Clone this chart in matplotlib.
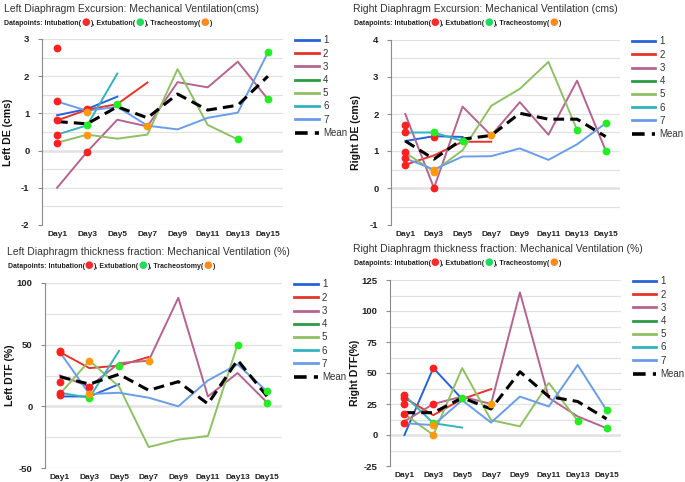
import numpy as np
import matplotlib
matplotlib.use("Agg")
from matplotlib import pyplot as plt

plt.rcParams["axes.unicode_minus"] = False

nan = np.nan
days = ["Day1", "Day3", "Day5", "Day7", "Day9", "Day11", "Day13", "Day15"]
names = ["1", "2", "3", "4", "5", "6", "7"]
colors = ["#2563d8", "#e8332b", "#b5648f", "#2b9a45", "#8fc064", "#33b3bd", "#6a9de9"]

# Left diaphragm excursion (cms)
lde = [
    [0.95, 1.12, 1.45, nan, nan, nan, nan, nan],
    [0.81, 1.10, 1.25, 1.83, nan, nan, nan, nan],
    [-1.0, -0.03, 0.83, 0.65, 1.84, 1.70, 2.39, 1.38],
    [2.77, nan, nan, nan, nan, nan, nan, nan],
    [0.21, 0.43, 0.32, 0.43, 2.19, 0.69, 0.30, nan],
    [0.43, 0.68, 2.07, nan, nan, nan, nan, nan],
    [1.32, 1.07, 1.18, 0.67, 0.57, 0.88, 1.02, 2.64],
]
lde_mean = [0.78, 0.72, 1.18, 0.88, 1.52, 1.09, 1.22, 2.0]
lde_intub = [("Day1", 2.77), ("Day1", 1.32), ("Day1", 0.81), ("Day1", 0.43), ("Day1", 0.21),
             ("Day3", 1.13), ("Day3", -0.03)]
lde_extub = [("Day3", 0.68), ("Day5", 1.25), ("Day13", 0.30), ("Day15", 2.64), ("Day15", 1.38)]
lde_trach = [("Day3", 1.05), ("Day3", 0.43), ("Day7", 0.66)]

# Right diaphragm excursion (cms)
rde = [
    [1.27, 1.40, 1.38, nan, nan, nan, nan, nan],
    [0.63, 0.88, 1.25, 1.25, nan, nan, nan, nan],
    [2.0, 0.0, 2.2, 1.42, 2.32, 1.44, 2.9, 1.01],
    [1.70, nan, nan, nan, nan, nan, nan, nan],
    [0.95, 0.45, 1.02, 2.22, 2.68, 3.41, 1.57, nan],
    [1.50, 1.50, 1.27, nan, nan, nan, nan, nan],
    [0.80, 0.50, 0.85, 0.86, 1.07, 0.76, 1.18, 1.75],
]
rde_mean = [1.27, 0.78, 1.32, 1.42, 2.02, 1.86, 1.86, 1.39]
rde_intub = [("Day1", 1.70), ("Day1", 1.50), ("Day1", 0.98), ("Day1", 0.80), ("Day1", 0.63),
             ("Day3", 1.38), ("Day3", 0.0)]
rde_extub = [("Day3", 1.50), ("Day5", 1.27), ("Day13", 1.57), ("Day15", 1.75), ("Day15", 1.01)]
rde_trach = [("Day3", 0.50), ("Day3", 0.43), ("Day7", 1.42)]

# Left diaphragm thickness fraction (%)
ldtf = [
    [8, 8, 18, nan, nan, nan, nan, nan],
    [44, 31, 33, 40, nan, nan, nan, nan],
    [25, 16, 35, 37, 88, 8, 27, 3],
    [20, nan, nan, nan, nan, nan, nan, nan],
    [10, 37, 16, -33, -27, -24, 50, nan],
    [11, 7, 45, nan, nan, nan, nan, nan],
    [44, 10, 11, 7, 0, 21, 34, 12],
]
ldtf_mean = [24, 18, 26, 13, 20, 2, 37.5, 8]
ldtf_intub = [("Day1", 45), ("Day1", 44), ("Day1", 20), ("Day1", 11), ("Day1", 9), ("Day3", 16)]
ldtf_extub = [("Day3", 7), ("Day5", 33), ("Day13", 50), ("Day15", 12.5), ("Day15", 3)]
ldtf_trach = [("Day3", 37), ("Day3", 10), ("Day7", 37)]

# Right diaphragm thickness fraction (%)
rdtf = [
    [0, 54, 29, nan, nan, nan, nan, nan],
    [30, 16, 29, 37, nan, nan, nan, nan],
    [11, 25, 31, 25, 115, 30, 15, 5.5],
    [25, nan, nan, nan, nan, nan, nan, nan],
    [17, 0, 54, 12, 7, 42, 11.5, nan],
    [32, 9.5, 6, nan, nan, nan, nan, nan],
    [9.5, 8, 28, 10, 31, 23, 56.5, 20],
]
rdtf_mean = [18, 18, 30, 21, 51, 31, 27, 13]
rdtf_intub = [("Day1", 32), ("Day1", 30), ("Day1", 25), ("Day1", 17), ("Day1", 9.5),
              ("Day3", 54), ("Day3", 25)]
rdtf_extub = [("Day3", 9.5), ("Day5", 30), ("Day13", 11.5), ("Day15", 20), ("Day15", 5.5)]
rdtf_trach = [("Day3", 8), ("Day3", 0), ("Day7", 25)]

W, H = 685, 482
fig = plt.figure(figsize=(W / 100, H / 100), dpi=100)
fig.patch.set_facecolor("white")
FONT = ["Liberation Sans", "DejaVu Sans"]
renderer = fig.canvas.get_renderer()


def subtitle(x, y):
    parts = [("Datapoints: Intubation(", "#222222"), ("\u25cf", "#ff2a2a"),
             ("), Extubation(", "#222222"), ("\u25cf", "#1fdc5a"),
             ("), Tracheostomy(", "#222222"), ("\u25cf", "#ff8a1c"), (")", "#222222")]
    for s, c in parts:
        dot = s == "\u25cf"
        t = fig.text(x / W, 1 - y / H, s, color=c, fontsize=7.2 if dot else 5.0,
                     fontweight="bold", family=["DejaVu Sans"] if dot else FONT,
                     va="baseline")
        x = t.get_window_extent(renderer).x1


def panel(box, title, tx, ty, data, mean, intub, extub, trach, ylim, yticks, minor, ylabel, lx):
    l, r, t, b = box
    ax = fig.add_axes([l / W, 1 - b / H, (r - l) / W, (b - t) / H])
    x = np.arange(len(days))
    for i, s in enumerate(data):
        ax.plot(x, s, color=colors[i], lw=1.4, label=names[i], zorder=3)
    ax.plot(x, mean, color="black", lw=2.2, ls=(0, (3.5, 2)), label="Mean", zorder=4)
    for pts, c in ((intub, "#ff2020"), (extub, "#22ee22"), (trach, "#ff9a10")):
        ax.plot([days.index(d) for d, v in pts], [v for d, v in pts], "o", color=c,
                ms=4.6, mec=c, zorder=5)
    ax.set_xlim(-0.5, len(days) - 0.5)
    ax.set_ylim(*ylim)
    ax.set_yticks(yticks)
    ax.set_yticks(minor, minor=True)
    ax.set_xticks(x)
    ax.set_xticklabels(days)
    ax.grid(axis="y", which="both", color="#e2e2e2", lw=0.9, zorder=0)
    ax.axhline(0, color="#9a9a9a", lw=1.0, zorder=1)
    for sp in ("top", "right", "bottom"):
        ax.spines[sp].set_visible(False)
    ax.spines["left"].set_color("#8a8a8a")
    ax.tick_params(axis="x", length=0, pad=4, labelsize=6, colors="#222222")
    ax.tick_params(axis="y", which="major", length=3, color="#8a8a8a", labelsize=6.8,
                   colors="#222222", pad=6)
    ax.tick_params(axis="y", which="minor", length=0)
    for lab in ax.get_xticklabels() + ax.get_yticklabels():
        lab.set_fontweight("bold")
        lab.set_family(FONT)
    ax.set_ylabel(ylabel, fontsize=7.6, fontweight="bold", family=FONT, color="#111111")
    ax.yaxis.set_label_coords(lx, 0.5)
    leg = ax.legend(loc="upper left", bbox_to_anchor=(1.035, 1.04), frameon=False,
                    labelspacing=0.33, handlelength=2.4, handletextpad=0.45,
                    borderaxespad=0, prop={"family": FONT, "size": 7.0})
    for txt in leg.get_texts():
        txt.set_color("#333333")
    for ln in leg.get_lines():
        ln.set_linewidth(2.0)
    leg.get_lines()[-1].set_linewidth(2.6)
    fig.text(tx / W, 1 - ty / H, title, fontsize=7.5, family=FONT, color="#333333",
             va="center")
    subtitle(tx + 0.5, ty + 16)
    return ax


panel((42, 283, 39, 225), "Left Diaphragm Excursion: Mechanical Ventilation(cms)", 4, 9,
      lde, lde_mean, lde_intub, lde_extub, lde_trach, (-2, 3), [-2, -1, 0, 1, 2, 3],
      np.arange(-1.5, 3, 1.0), "Left DE (cms)", -0.12)
panel((391, 620, 40, 225), "Right Diaphragm Excursion: Mechanical Ventilation (cms)", 353, 9,
      rde, rde_mean, rde_intub, rde_extub, rde_trach, (-1, 4), [-1, 0, 1, 2, 3, 4],
      np.arange(-0.5, 4, 1.0), "Right DE (cms)", -0.13)
panel((45, 282, 283, 468), "Left Diaphragm thickness fraction: Mechanical Ventilation (%)", 7, 252,
      ldtf, ldtf_mean, ldtf_intub, ldtf_extub, ldtf_trach, (-50, 100), [-50, 0, 50, 100],
      [-25, 25, 75], "Left DTF (%)", -0.127)
panel((390, 621, 280, 466), "Right Diaphragm thickness fraction: Mechanical Ventilation (%)", 353, 249,
      rdtf, rdtf_mean, rdtf_intub, rdtf_extub, rdtf_trach, (-25, 125), [-25, 0, 25, 50, 75, 100, 125],
      np.arange(-12.5, 125, 25), "Right DTF(%)", -0.13)

fig.savefig("out.png", dpi=100, facecolor="white")
